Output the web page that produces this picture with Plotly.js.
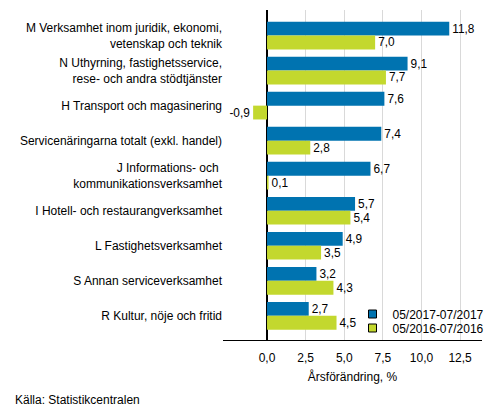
<!DOCTYPE html>
<html>
<head>
<meta charset="utf-8">
<script src="https://cdn.plot.ly/plotly-3.0.1.min.js"></script>
<style>
  html, body { margin: 0; padding: 0; background: #fff; }
  #chart { width: 493px; height: 416px; }
</style>
</head>
<body>
<div id="chart"></div>
<script>
var categories = [
    "M Verksamhet inom juridik, ekonomi,<br>vetenskap och teknik",
    "N Uthyrning, fastighetsservice,<br>rese- och andra stödtjänster",
    "H Transport och magasinering",
    "Servicenäringarna totalt (exkl. handel)",
    "J Informations- och <br>kommunikationsverksamhet",
    "I Hotell- och restaurangverksamhet",
    "L Fastighetsverksamhet",
    "S Annan serviceverksamhet",
    "R Kultur, nöje och fritid"
];
var period2017 = [11.8, 9.1, 7.6, 7.4, 6.7, 5.7, 4.9, 3.2, 2.7];
var period2016 = [7.0, 7.7, -0.9, 2.8, 0.1, 5.4, 3.5, 4.3, 4.5];
var seriesNames = ["05/2017-07/2017", "05/2016-07/2016"];
var seriesColors = ["#0073b0", "#c3d82e"];
var xTicks = [0, 2.5, 5, 7.5, 10, 12.5];

var fontFam = "Arial, 'Liberation Sans', sans-serif";

function barTrace(vals, i) {
    return {
        type: "bar",
        orientation: "h",
        name: seriesNames[i],
        y: categories,
        x: vals,
        marker: { color: seriesColors[i] },
        texttemplate: "%{x:.1f}",
        textposition: "outside",
        textfont: { color: "#000", size: 12, family: fontFam },
        cliponaxis: false,
        showlegend: false,
        hoverinfo: "x"
    };
}

// small square legend keys, one legend each so the spacing can be tight
function keyTrace(i) {
    return {
        type: "scatter",
        mode: "markers",
        name: seriesNames[i],
        x: [null],
        y: [null],
        marker: { symbol: "square", size: 8, color: seriesColors[i], line: { color: "#000", width: 1 } },
        legend: i === 0 ? "legend" : "legend2",
        showlegend: true
    };
}

var legendBase = {
    x: 0.5, xanchor: "left", yanchor: "middle",
    bgcolor: "rgba(0,0,0,0)",
    font: { size: 12 }
};

var layout = {
    width: 493,
    height: 416,
    margin: { l: 223, r: 11, t: 10, b: 76, autoexpand: false },
    separators: ", ",
    font: { family: fontFam, size: 12, color: "#000" },
    barmode: "group",
    bargap: 0.21,
    bargroupgap: 0,
    showlegend: true,
    legend: Object.assign({}, legendBase, { y: 26 / 330 }),
    legend2: Object.assign({}, legendBase, { y: 12 / 330 }),
    xaxis: {
        range: [-2.85, 13.92],
        tickvals: xTicks,
        tickformat: ".1f",
        showgrid: true,
        gridcolor: "#d9d9d9",
        zeroline: true,
        zerolinecolor: "#000",
        zerolinewidth: 1.5,
        showline: true,
        linecolor: "#000",
        linewidth: 1,
        ticks: "",
        ticklabelstandoff: 7,
        title: { text: "Årsförändring, %", standoff: 8, font: { size: 12 } }
    },
    yaxis: {
        type: "category",
        range: [8.69, -0.73],
        showgrid: false,
        showline: false,
        zeroline: false,
        ticks: "",
        automargin: false
    },
    annotations: [{
        text: "Källa: Statistikcentralen",
        xref: "paper", yref: "paper",
        x: -210 / 259, y: -60 / 330,
        xanchor: "left", yanchor: "middle",
        showarrow: false,
        font: { size: 12 }
    }],
    plot_bgcolor: "#fff",
    paper_bgcolor: "#fff"
};

var data = [barTrace(period2017, 0), barTrace(period2016, 1), keyTrace(0), keyTrace(1)];

Plotly.newPlot("chart", data, layout, { displayModeBar: false, staticPlot: true });
</script>
</body>
</html>
